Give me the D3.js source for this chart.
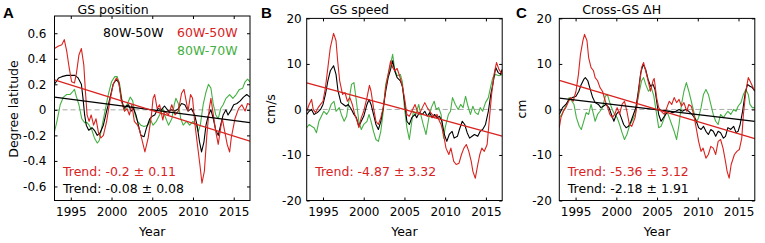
<!DOCTYPE html>
<html>
<head>
<meta charset="utf-8">
<script src="https://cdn.jsdelivr.net/npm/d3@7"></script>
<style>
  body { margin: 0; background: #fff; }
  svg text { font-family: "DejaVu Sans", sans-serif; }
</style>
</head>
<body>
<div id="chart"></div>
<script>
// ---- data ----
const xTicks = [1995, 2000, 2005, 2010, 2015];
const yTicksPos = [-0.6, -0.4, -0.2, 0, 0.2, 0.4, 0.6];
const yTicksCm = [-20, -10, 0, 10, 20];

const panelLetters = ["A", "B", "C"];
const panelTitles = ["GS position", "GS speed", "Cross-GS \u0394H"];
const yLabels = ["Degree latitude", "cm/s", "cm"];
const legendNames = ["80W-50W", "60W-50W", "80W-70W"];

// A: GS position (degree latitude)
const posBlack = [[1993.0,0.2],[1993.5,0.25],[1993.9,0.26],[1994.5,0.27],[1995.1,0.27],[1995.5,0.27],[1995.9,0.25],[1996.3,0.2],[1996.5,0.09],[1996.7,-0.04],[1996.9,-0.12],[1997.2,-0.16],[1997.6,-0.14],[1997.9,-0.16],[1998.25,-0.2],[1998.6,-0.18],[1999.0,-0.12],[1999.4,-0.01],[1999.8,0.09],[2000.2,0.2],[2000.6,0.24],[2000.9,0.21],[2001.2,0.09],[2001.5,0.01],[2001.8,0.03],[2002.1,0.04],[2002.4,-0.01],[2002.7,0.01],[2003.0,-0.04],[2003.3,-0.12],[2003.6,-0.2],[2004.0,-0.21],[2004.3,-0.14],[2004.7,-0.07],[2005.0,-0.05],[2005.3,-0.04],[2005.7,0.01],[2006.1,0],[2006.5,0.03],[2007.0,-0.01],[2007.4,0],[2007.8,-0.01],[2008.2,0.01],[2008.6,0.05],[2009.0,0.04],[2009.4,-0.01],[2009.8,0.01],[2010.2,-0.04],[2010.5,-0.12],[2010.8,-0.25],[2011.05,-0.33],[2011.35,-0.25],[2011.6,-0.12],[2011.9,-0.04],[2012.2,0],[2012.5,-0.07],[2012.8,-0.16],[2013.1,-0.2],[2013.4,-0.12],[2013.7,-0.04],[2014.05,0],[2014.3,-0.04],[2014.7,0],[2015.0,0.04],[2015.4,0.05],[2015.8,0.07],[2016.2,0.1],[2016.6,0.12],[2017.0,0.1]];
const posRed = [[1993.0,0.48],[1993.5,0.5],[1993.9,0.51],[1994.2,0.55],[1994.5,0.46],[1994.8,0.33],[1995.1,0.22],[1995.45,0.21],[1995.7,0.29],[1996.0,0.43],[1996.3,0.48],[1996.6,0.35],[1996.8,0.14],[1997.0,-0.04],[1997.25,-0.09],[1997.5,-0.04],[1997.8,-0.12],[1998.1,-0.07],[1998.4,-0.18],[1998.7,-0.22],[1999.0,-0.2],[1999.4,-0.09],[1999.8,0.07],[2000.2,0.2],[2000.6,0.25],[2000.9,0.22],[2001.2,0.07],[2001.6,-0.01],[2001.9,0.01],[2002.2,-0.04],[2002.5,0.04],[2002.8,-0.09],[2003.2,-0.12],[2003.5,-0.17],[2003.8,-0.25],[2004.1,-0.33],[2004.5,-0.22],[2004.9,-0.04],[2005.1,0.09],[2005.3,0.12],[2005.6,0.01],[2005.9,0.04],[2006.3,-0.08],[2006.5,-0.01],[2007.0,-0.04],[2007.4,0.04],[2007.8,-0.04],[2008.2,-0.01],[2008.6,0.13],[2008.9,0.16],[2009.1,0.09],[2009.4,-0.01],[2009.7,0.12],[2009.95,0.09],[2010.2,-0.09],[2010.5,-0.25],[2010.85,-0.43],[2011.1,-0.575],[2011.4,-0.48],[2011.7,-0.2],[2012.0,0.01],[2012.2,0.09],[2012.5,-0.04],[2012.8,-0.17],[2013.1,-0.27],[2013.4,-0.14],[2013.6,-0.07],[2013.9,-0.17],[2014.2,-0.27],[2014.5,-0.33],[2014.7,-0.22],[2015.15,-0.07],[2015.6,0.01],[2016.0,0.04],[2016.4,-0.01],[2016.7,0.05],[2017.0,0.04]];
const posGreen = [[1993.0,-0.17],[1993.3,-0.09],[1993.7,0.04],[1994.1,0.1],[1994.5,0.12],[1994.9,0.12],[1995.2,0.14],[1995.45,0.16],[1995.7,0.1],[1996.0,0.04],[1996.35,-0.07],[1996.7,-0.1],[1997.0,-0.1],[1997.25,-0.12],[1997.6,-0.16],[1997.9,-0.22],[1998.25,-0.26],[1998.5,-0.24],[1998.8,-0.14],[1999.2,-0.01],[1999.6,0.12],[2000.0,0.22],[2000.4,0.26],[2000.7,0.26],[2001.0,0.2],[2001.3,0.07],[2001.6,-0.01],[2001.9,0.04],[2002.3,0.1],[2002.6,0.07],[2002.9,-0.04],[2003.2,-0.09],[2003.6,-0.12],[2004.0,-0.13],[2004.45,-0.12],[2004.8,-0.08],[2005.1,-0.12],[2005.5,-0.09],[2005.9,-0.04],[2006.3,0.01],[2006.5,-0.04],[2007.0,-0.12],[2007.4,-0.07],[2007.7,0.04],[2007.9,0.09],[2008.2,0.05],[2008.5,-0.07],[2008.8,-0.12],[2009.2,-0.09],[2009.6,-0.12],[2010.0,-0.09],[2010.4,-0.12],[2010.65,-0.17],[2010.9,-0.12],[2011.25,0.04],[2011.6,0.14],[2011.9,0.2],[2012.2,0.17],[2012.5,0.04],[2012.8,-0.04],[2013.1,-0.07],[2013.4,0.01],[2013.7,0.04],[2014.05,0.09],[2014.5,0.12],[2014.9,0.09],[2015.3,0.12],[2015.7,0.16],[2016.1,0.17],[2016.4,0.22],[2016.7,0.24],[2017.0,0.22]];

// B: GS speed (cm/s)
const spdBlack = [[1993.0,-1.1],[1993.3,-0.4],[1993.6,0],[1993.9,-1.1],[1994.3,-0.7],[1994.7,0],[1995.0,1.1],[1995.3,3.3],[1995.6,6.3],[1995.9,8.5],[1996.3,9.6],[1996.6,7.7],[1996.85,4.0],[1997.2,1.5],[1997.5,1.1],[1997.8,0.7],[1998.1,1.1],[1998.5,0],[1998.8,-1.1],[1999.1,-1.8],[1999.4,-3.7],[1999.7,-2.6],[2000.0,-1.5],[2000.4,1.1],[2000.65,2.2],[2000.9,1.1],[2001.2,-1.1],[2001.5,-3.3],[2001.8,-4.4],[2002.1,-2.6],[2002.4,0.4],[2002.7,4.0],[2003.0,7.0],[2003.3,8.8],[2003.55,10.7],[2003.8,8.5],[2004.1,7.0],[2004.5,6.3],[2004.75,5.0],[2005.0,1.8],[2005.3,-2.6],[2005.6,-3.3],[2005.9,-1.8],[2006.3,-1.1],[2006.5,-1.8],[2006.8,-0.7],[2007.2,-1.1],[2007.5,-0.4],[2007.8,-1.5],[2008.1,-0.7],[2008.4,-1.8],[2008.7,-1.1],[2009.0,-1.8],[2009.3,-1.5],[2009.6,-2.6],[2009.9,-5.5],[2010.2,-7.0],[2010.5,-5.5],[2010.85,-4.8],[2011.1,-6.3],[2011.5,-5.9],[2011.75,-4.4],[2012.1,-2.6],[2012.4,-3.3],[2012.7,-5.1],[2013.0,-6.3],[2013.3,-5.9],[2013.6,-5.5],[2014.0,-5.9],[2014.3,-4.8],[2014.6,-4.4],[2014.95,-3.3],[2015.3,-0.4],[2015.6,3.3],[2015.85,5.5],[2016.2,9.2],[2016.5,8.1],[2016.8,7.7],[2017.0,8.8]];
const spdRed = [[1993.0,-0.4],[1993.3,1.1],[1993.6,2.2],[1993.8,0],[1994.1,-0.7],[1994.4,0.4],[1994.7,1.1],[1995.0,1.8],[1995.3,4.8],[1995.6,9.2],[1995.9,13.6],[1996.3,16.7],[1996.6,15.1],[1996.8,10.7],[1997.05,6.3],[1997.4,3.3],[1997.7,3.7],[1998.0,1.8],[1998.3,2.6],[1998.6,1.1],[1998.9,-1.1],[1999.2,-2.6],[1999.4,-4.0],[1999.7,-1.8],[2000.0,-0.4],[2000.4,2.6],[2000.7,5.3],[2000.9,4.0],[2001.2,0.4],[2001.5,-2.6],[2001.8,-3.3],[2002.1,-1.8],[2002.4,0.4],[2002.7,4.8],[2003.0,7.7],[2003.3,10.7],[2003.55,9.2],[2003.8,8.5],[2004.1,9.0],[2004.4,7.4],[2004.7,5.5],[2005.0,2.6],[2005.3,-1.1],[2005.6,-1.5],[2005.9,-0.4],[2006.3,1.1],[2006.5,0],[2006.8,-1.1],[2007.2,0.4],[2007.5,1.5],[2007.8,0.4],[2008.1,-0.4],[2008.4,-1.1],[2008.7,-1.8],[2009.0,-1.1],[2009.3,-2.6],[2009.5,-3.3],[2009.8,-5.5],[2010.1,-8.5],[2010.45,-9.9],[2010.7,-8.5],[2011.05,-11.4],[2011.35,-12.1],[2011.7,-11.8],[2012.0,-9.9],[2012.3,-8.5],[2012.6,-7.7],[2012.9,-9.2],[2013.2,-11.4],[2013.4,-13.6],[2013.7,-15.1],[2014.0,-12.1],[2014.25,-9.9],[2014.5,-8.5],[2014.8,-9.2],[2015.15,-7.7],[2015.4,-2.6],[2015.7,3.3],[2016.0,7.7],[2016.3,10.3],[2016.6,8.8],[2017.0,7.7]];
const spdGreen = [[1993.0,-4.0],[1993.3,-3.3],[1993.6,-3.7],[1993.9,-4.0],[1994.2,-5.1],[1994.5,-2.6],[1994.8,-1.5],[1995.1,-0.4],[1995.45,-1.1],[1995.7,-0.4],[1996.0,1.1],[1996.35,1.8],[1996.6,-0.4],[1997.0,0.4],[1997.25,-1.1],[1997.6,-2.6],[1997.9,-1.5],[1998.25,2.6],[1998.5,5.5],[1998.8,5.9],[1999.1,1.8],[1999.4,-2.6],[1999.7,-4.4],[2000.0,-3.3],[2000.4,-2.6],[2000.65,-1.1],[2000.9,-2.6],[2001.2,-4.8],[2001.5,-6.6],[2001.8,-7.0],[2002.1,-4.8],[2002.4,-0.4],[2002.7,5.5],[2003.0,7.7],[2003.3,9.9],[2003.55,12.1],[2003.8,8.8],[2004.1,7.4],[2004.5,7.7],[2004.75,6.0],[2005.0,0.4],[2005.3,-4.0],[2005.6,-6.6],[2005.85,-3.3],[2006.1,-0.4],[2006.4,-1.1],[2006.75,1.1],[2007.0,-1.1],[2007.3,-3.3],[2007.65,-5.5],[2008.0,-1.8],[2008.3,0.4],[2008.65,1.8],[2008.9,0],[2009.2,0.4],[2009.5,-1.1],[2009.8,-6.3],[2010.0,-4.0],[2010.4,-1.1],[2010.65,-0.4],[2010.9,2.6],[2011.25,1.1],[2011.6,0],[2011.9,1.1],[2012.2,0.4],[2012.5,2.9],[2012.8,0.7],[2013.1,-1.1],[2013.4,0.7],[2013.7,-0.7],[2014.05,-1.1],[2014.3,0.4],[2014.6,-0.4],[2014.95,1.5],[2015.3,2.6],[2015.6,5.1],[2015.85,7.0],[2016.2,7.7],[2016.6,7.4],[2017.0,7.7]];

// C: cross-GS dH (cm)
const dhBlack = [[1993.0,-1.1],[1993.4,0.4],[1993.8,1.1],[1994.2,2.2],[1994.6,2.6],[1995.05,2.9],[1995.4,4.0],[1995.7,5.5],[1996.0,6.6],[1996.2,7.0],[1996.5,6.3],[1996.8,4.4],[1997.1,2.6],[1997.4,1.5],[1997.8,1.1],[1998.1,0.4],[1998.4,0.7],[1998.7,1.1],[1999.1,0.4],[1999.4,-1.1],[1999.7,-2.6],[2000.0,-1.1],[2000.3,-0.4],[2000.6,-1.8],[2000.9,-3.3],[2001.2,-4.0],[2001.5,-3.7],[2001.8,-2.6],[2002.1,-1.1],[2002.4,0.4],[2002.7,4.0],[2003.0,8.1],[2003.3,9.9],[2003.6,8.8],[2003.9,6.6],[2004.2,5.1],[2004.5,5.5],[2004.75,4.4],[2004.95,1.8],[2005.2,-1.1],[2005.5,-2.6],[2005.9,-1.5],[2006.2,-0.7],[2006.5,-0.4],[2006.9,-0.7],[2007.3,-0.4],[2007.7,0],[2008.1,-0.4],[2008.5,0],[2008.9,-0.4],[2009.3,-1.1],[2009.75,-2.2],[2010.1,-4.0],[2010.4,-4.4],[2010.7,-3.7],[2011.0,-4.8],[2011.3,-5.5],[2011.6,-4.4],[2011.9,-4.8],[2012.2,-5.9],[2012.5,-4.8],[2012.8,-5.1],[2013.15,-6.3],[2013.4,-5.9],[2013.7,-4.0],[2014.05,-4.4],[2014.4,-3.7],[2014.7,-5.1],[2014.95,-4.8],[2015.2,-3.3],[2015.5,-0.4],[2015.8,3.3],[2016.1,5.5],[2016.4,5.1],[2016.7,4.8],[2017.0,4.0]];
const dhRed = [[1993.0,-4.0],[1993.2,-1.8],[1993.5,-0.4],[1993.8,0.4],[1994.15,1.8],[1994.4,2.6],[1994.7,1.8],[1995.05,4.0],[1995.35,7.7],[1995.6,12.1],[1995.9,15.1],[1996.1,16.5],[1996.4,15.1],[1996.6,11.4],[1996.9,9.2],[1997.2,8.5],[1997.4,7.0],[1997.7,6.3],[1998.0,4.8],[1998.3,4.0],[1998.65,1.8],[1998.9,0.7],[1999.2,-1.1],[1999.5,-1.8],[1999.8,-1.1],[2000.1,0.4],[2000.4,-1.1],[2000.7,1.1],[2001.0,1.8],[2001.3,-0.4],[2001.6,-3.3],[2001.9,-3.7],[2002.3,-1.8],[2002.5,0.4],[2002.8,4.8],[2003.1,9.2],[2003.35,10.3],[2003.6,8.5],[2003.9,6.3],[2004.2,4.0],[2004.5,6.3],[2004.65,6.8],[2004.95,2.6],[2005.2,0.4],[2005.5,-0.4],[2005.9,-1.1],[2006.2,0.4],[2006.5,1.8],[2006.8,1.1],[2007.1,2.6],[2007.4,1.5],[2007.7,2.2],[2008.0,0.7],[2008.3,1.5],[2008.65,-0.4],[2008.9,1.1],[2009.2,0.7],[2009.5,-1.1],[2009.8,-4.0],[2010.1,-7.0],[2010.4,-9.2],[2010.65,-8.5],[2011.0,-10.7],[2011.3,-9.9],[2011.6,-8.1],[2011.9,-8.5],[2012.2,-9.9],[2012.5,-7.0],[2012.8,-6.6],[2013.1,-8.5],[2013.4,-11.4],[2013.6,-13.6],[2013.85,-15.1],[2014.1,-12.1],[2014.5,-9.9],[2014.8,-9.2],[2015.1,-8.8],[2015.4,-6.3],[2015.6,-1.1],[2015.9,4.0],[2016.2,7.0],[2016.5,5.9],[2016.9,4.4],[2017.0,4.2]];
const dhGreen = [[1993.0,-1.8],[1993.3,-1.1],[1993.6,0],[1993.9,1.1],[1994.2,2.6],[1994.55,1.8],[1994.8,1.1],[1995.1,-1.8],[1995.45,-3.7],[1995.7,-4.4],[1996.0,-2.6],[1996.3,-0.7],[1996.6,-1.1],[1996.9,1.1],[1997.2,-1.1],[1997.4,-2.6],[1997.7,-1.1],[1998.0,-0.4],[1998.3,0.4],[1998.65,2.9],[1998.9,3.3],[1999.2,1.5],[1999.5,0],[1999.8,-1.1],[2000.1,-1.8],[2000.4,-3.3],[2000.7,-5.1],[2001.0,-6.6],[2001.3,-5.5],[2001.6,-3.7],[2001.9,-2.6],[2002.3,-1.1],[2002.5,1.1],[2002.8,3.7],[2003.1,6.3],[2003.35,7.0],[2003.6,5.5],[2003.95,4.0],[2004.3,4.8],[2004.6,3.0],[2004.95,-1.1],[2005.2,-4.0],[2005.5,-3.7],[2005.9,-1.8],[2006.2,-0.4],[2006.5,-1.8],[2006.8,-3.3],[2007.1,-4.8],[2007.4,-6.6],[2007.7,-3.3],[2008.0,1.1],[2008.3,4.0],[2008.6,5.9],[2008.9,4.0],[2009.2,1.8],[2009.5,-0.4],[2009.8,-2.9],[2010.1,-1.8],[2010.4,0.4],[2010.7,3.3],[2011.0,4.4],[2011.3,3.3],[2011.6,1.1],[2011.9,-1.1],[2012.2,-2.6],[2012.5,-3.3],[2012.8,-1.1],[2013.15,-1.8],[2013.4,-1.1],[2013.7,-0.4],[2014.05,-1.1],[2014.4,0],[2014.7,-0.4],[2014.95,0.7],[2015.3,1.5],[2015.6,3.3],[2015.9,4.4],[2016.2,3.3],[2016.4,1.1],[2016.7,0.4],[2017.0,0.4]];

// linear trends (end points over the plotted period)
const trendRedA = [[1993, 0.235], [2017, -0.245]];
const trendBlackA = [[1993, 0.1], [2017, -0.1]];
const trendRedB = [[1993, 5.85], [2017, -5.85]];
const trendRedC = [[1993, 6.4], [2017, -6.4]];
const trendBlackC = [[1993, 2.5], [2017, -2.6]];

const trendTextA = ["Trend: -0.2 \u00b1 0.11", "Trend: -0.08 \u00b1 0.08"];
const trendTextB = ["Trend: -4.87 \u00b1 3.32"];
const trendTextC = ["Trend: -5.36 \u00b1 3.12", "Trend: -2.18 \u00b1 1.91"];

// ---- styling ----
const RED = "#d8231f";
const GREEN = "#45b043";
const BLACK = "#000";

const W = 765, H = 243;
const panelLeft = [54.5, 306.7, 559.3];
const panelW = 195.5;
const plotBottom = 200.5;

const svg = d3.select("#chart").append("svg")
  .attr("width", W)
  .attr("height", H);

const panels = [
  {
    top: 16, yDomain: [-0.71, 0.735], yTicks: yTicksPos,
    series: [[posGreen, GREEN], [posBlack, BLACK], [posRed, RED]],
    trends: [[trendBlackA, BLACK], [trendRedA, RED]],
    trendTexts: [[trendTextA[0], RED], [trendTextA[1], BLACK]],
    legend: true
  },
  {
    top: 18.4, yDomain: [-20, 20], yTicks: yTicksCm,
    series: [[spdGreen, GREEN], [spdBlack, BLACK], [spdRed, RED]],
    trends: [[trendRedB, RED]],
    trendTexts: [[trendTextB[0], RED]],
    legend: false
  },
  {
    top: 18.4, yDomain: [-20, 20], yTicks: yTicksCm,
    series: [[dhGreen, GREEN], [dhBlack, BLACK], [dhRed, RED]],
    trends: [[trendBlackC, BLACK], [trendRedC, RED]],
    trendTexts: [[trendTextC[0], RED], [trendTextC[1], BLACK]],
    legend: false
  }
];

const letterX = [3, 261, 516];
const tickLabelGap = [8, 5, 7.5];
const yLabelX = [13, 270, 521];

panels.forEach((p, i) => {
  const x0 = panelLeft[i];
  const h = plotBottom - p.top;
  const g = svg.append("g").attr("transform", `translate(${x0},${p.top})`);

  const x = d3.scaleLinear().domain([1993, 2017]).range([0, panelW]);
  const y = d3.scaleLinear().domain(p.yDomain).range([h, 0]);

  g.append("clipPath").attr("id", "clip" + i)
    .append("rect").attr("width", panelW).attr("height", h);

  // zero line
  g.append("line")
    .attr("x1", 0).attr("x2", panelW)
    .attr("y1", y(0)).attr("y2", y(0))
    .attr("stroke", "#aaa")
    .attr("stroke-width", 1)
    .attr("stroke-dasharray", "5,3");

  const line = d3.line().x(d => x(d[0])).y(d => y(d[1]));
  const plot = g.append("g").attr("clip-path", `url(#clip${i})`);

  p.series.forEach(([data, color]) => {
    plot.append("path")
      .datum(data)
      .attr("d", line)
      .attr("fill", "none")
      .attr("stroke", color)
      .attr("stroke-width", 1.1)
      .attr("stroke-linejoin", "round");
  });

  p.trends.forEach(([data, color]) => {
    plot.append("path")
      .datum(data)
      .attr("d", line)
      .attr("fill", "none")
      .attr("stroke", color)
      .attr("stroke-width", 1.3);
  });

  // axes, ticks pointing inward
  const xAxis = d3.axisBottom(x).tickValues(xTicks).tickFormat(d3.format("d"))
    .tickSize(-3).tickPadding(7);
  const gx = g.append("g").attr("transform", `translate(0,${h})`).call(xAxis);
  g.append("g").call(d3.axisTop(x).tickValues(xTicks).tickFormat("").tickSize(-3));

  const yAxis = d3.axisLeft(y).tickValues(p.yTicks).tickFormat(d => String(d))
    .tickSize(-3).tickPadding(tickLabelGap[i]);
  const gy = g.append("g").call(yAxis);
  g.append("g").attr("transform", `translate(${panelW},0)`)
    .call(d3.axisRight(y).tickValues(p.yTicks).tickFormat("").tickSize(-3));

  g.selectAll(".domain").remove();
  g.selectAll(".tick line").attr("stroke", "#000");
  [gx, gy].forEach(a => a.selectAll("text")
    .attr("font-size", 12).attr("fill", "#000")
    .style("font-family", "DejaVu Sans, sans-serif"));

  g.append("rect")
    .attr("width", panelW).attr("height", h)
    .attr("fill", "none").attr("stroke", "#000").attr("stroke-width", 1);

  // labels
  svg.append("text")
    .attr("x", x0 + panelW / 2).attr("y", 236)
    .attr("text-anchor", "middle").attr("font-size", 12.5)
    .text("Year");

  svg.append("text")
    .attr("transform", `translate(${yLabelX[i]},${109}) rotate(-90)`)
    .attr("text-anchor", "middle").attr("dominant-baseline", "central")
    .attr("font-size", 12.5)
    .text(yLabels[i]);

  svg.append("text")
    .attr("x", x0 + 23).attr("y", 14)
    .attr("font-size", 12.5)
    .text(panelTitles[i]);

  svg.append("text")
    .attr("x", letterX[i]).attr("y", 18)
    .attr("font-size", 15).attr("font-weight", "bold")
    .style("font-family", "Liberation Sans, Arial, sans-serif")
    .text(panelLetters[i]);

  p.trendTexts.forEach(([t, color], k) => {
    svg.append("text")
      .attr("x", x0 + 8.5).attr("y", 175.5 + k * 17)
      .attr("font-size", 12.5).attr("fill", color)
      .text(t);
  });

  if (p.legend) {
    svg.append("text").attr("x", 103).attr("y", 36.5)
      .attr("font-size", 12.5).attr("fill", BLACK).text(legendNames[0]);
    svg.append("text").attr("x", 177).attr("y", 36.5)
      .attr("font-size", 12.5).attr("fill", RED).text(legendNames[1]);
    svg.append("text").attr("x", 177).attr("y", 55)
      .attr("font-size", 12.5).attr("fill", GREEN).text(legendNames[2]);
  }
});
</script>
</body>
</html>
